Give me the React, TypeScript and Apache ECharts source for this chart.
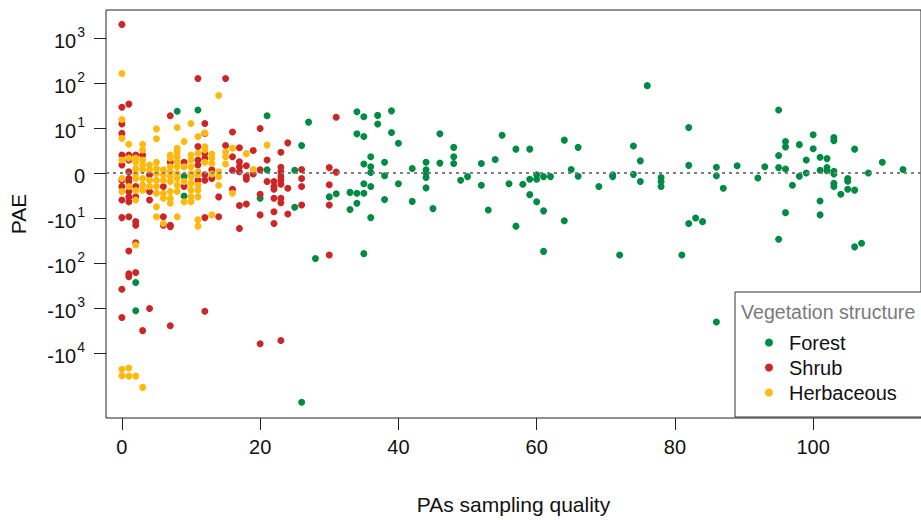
import React, { useEffect, useRef } from "react";
import * as echarts from "echarts";

// Axis ticks (y ticks are signed log10 positions of PAE)
const xTicks = [0, 20, 40, 60, 80, 100];
const yTicks = [-4, -3, -2, -1, 0, 1, 2, 3];
const seriesNames = ["Forest", "Shrub", "Herbaceous"];
const seriesColors = ["#008B45", "#CD2626", "#FFB90F"];

// [PAs sampling quality, signed log10(PAE)]
const forestPoints = [
  [8, 1.37], [11, 1.4], [21, 1.27], [27, 1.13], [26, 0.61], [21, 0.07], [25, 0.06], [20, -0.56], [25, -0.76], [9, -0.07], [9, -0.51], [2, -2.43], [2, -3.06], [28, -1.9], [26, -5.09],
  [30, -0.53], [31, -0.46], [33, -0.43], [34, -0.45], [35, -0.45], [35, -0.24], [36, -0.3], [34, -0.67], [33, -0.81], [36, -0.99], [38, -0.59], [40, -0.24], [42, 0.1], [42, -0.63], [44, 0.24], [44, 0.07], [44, 0.0], [44, -0.1], [44, -0.33], [45, -0.79], [46, 0.22], [49, -0.16], [50, -0.08], [52, -0.27], [53, -0.82], [56, -0.24], [57, -1.18], [35, -1.79],
  [34, 1.36], [35, 1.25], [37, 1.28], [37, 1.09], [39, 1.38], [34, 0.87], [35, 0.81], [39, 0.9], [40, 0.66], [46, 0.87], [48, 0.57], [48, 0.36], [48, 0.21], [55, 0.84], [57, 0.53], [54, 0.3], [52, 0.21], [36, 0.36], [35, 0.2], [36, 0.14], [36, 0.01], [38, 0.24], [38, -0.06],
  [76, 1.94], [59, 0.53], [64, 0.73], [66, 0.57], [74, 0.6], [75, 0.27], [82, 1.01], [82, 0.17], [65, 0.08], [66, -0.07], [58, -0.25], [59, -0.14], [60, -0.04], [60, -0.14], [61, -0.08], [62, -0.08], [59, -0.48], [60, -0.64], [61, -0.84], [64, -1.06], [61, -1.74], [69, -0.3], [71, -0.04], [71, -0.08], [74, -0.03], [75, -0.19], [78, -0.1], [78, -0.19], [78, -0.3], [72, -1.82], [81, -1.82], [82, -1.12], [83, -1.0], [84, -1.08],
  [95, 1.4], [86, 0.13], [86, -0.06], [87, -0.34], [89, 0.16], [92, -0.11], [93, 0.14], [95, 0.39], [95, 0.12], [96, 0.7], [96, 0.58], [96, 0.09], [97, -0.27], [98, 0.63], [98, -0.07], [99, 0.29], [99, 0.0], [100, 0.85], [100, 0.54], [101, 0.35], [101, 0.06], [101, -0.62], [101, -0.93], [102, 0.32], [102, 0.12], [102, 0.05], [103, 0.79], [103, 0.72], [103, 0.04], [103, -0.02], [103, -0.23], [103, -0.3], [104, -0.47], [105, -0.12], [105, -0.18], [105, -0.36], [106, 0.53], [106, -0.38], [108, 0.0], [110, 0.24], [113, 0.08], [96, -0.88], [95, -1.47], [106, -1.64], [107, -1.56], [86, -3.31],
];

const shrubPoints = [
  [0, 3.3], [11, 2.1], [15, 2.1], [0, 1.46], [1, 1.53], [7, 1.27], [0, 1.09], [12, 1.1],
  [2, -1.16], [6, -1.16], [7, -1.16], [2, -1.55], [1, -1.73], [1, -2.24], [1, -2.3], [2, -2.21], [0, -2.58], [4, -3.01], [0, -3.21], [3, -3.5], [7, -3.39], [12, -3.07], [20, -3.79], [23, -3.72],
  [16, 0.91], [20, 0.99], [24, 0.67], [23, 0.46], [15, 0.61], [17, 0.56], [19, 0.5], [16, 0.36], [17, 0.25], [21, 0.29], [13, 0.07], [13, -0.12], [16, 0.06], [17, 0.14], [17, 0.03], [18, 0.16], [18, -0.08], [18, -0.14], [19, -0.02], [20, 0.07], [21, -0.19], [22, -0.19], [22, -0.3], [22, -0.36], [23, 0.13], [23, 0.03], [23, -0.07], [23, -0.16], [23, -0.25], [23, -0.56], [23, -0.66], [26, 0.08], [26, -0.12], [26, -0.3], [26, -0.71], [24, -0.34], [24, -0.91], [22, -0.56], [22, -0.86], [22, -1.12], [20, -0.47], [20, -0.93], [18, -0.69], [17, -0.72], [17, -1.23], [16, -0.36], [14, -0.53], [14, -0.97], [12, -0.99],
  [31, 1.24], [30, 0.12], [31, 0.02], [30, -0.26], [30, -0.71], [30, -1.82],
  [0, 0.88], [0, 0.4], [0, 0.18], [0, -0.16], [0, -0.3], [0, -0.6], [0, -0.99], [1, 0.4], [1, 0.29], [1, 0.03], [1, -0.12], [1, -0.19], [1, -0.41], [1, -0.53], [1, -0.64], [1, -0.97], [2, 0.4], [2, -0.3], [2, -0.53], [2, -1.08], [3, 0.4], [4, -0.41], [4, -0.6], [4, -0.04], [6, -0.3], [6, -0.97], [7, 0.24], [7, -1.19], [9, 0.24], [9, -0.3], [11, 0.59], [11, 0.29], [11, 0.18], [11, -0.16], [12, 0.88], [12, 0.44], [12, 0.33], [12, -0.04], [12, -0.16],
];

const herbaceousPoints = [
  [0, 2.21], [0, 1.19], [5, 0.98], [8, 1.01], [10, 1.1], [14, 1.72],
  [11, -1.18], [2, -1.6], [0, -4.36], [1, -4.33], [0, -4.5], [1, -4.51], [2, -4.51], [3, -4.76],
  [12, 0.89], [21, 0.62], [16, 0.55], [18, 0.43], [12, 0.58], [12, 0.51], [12, 0.24], [13, 0.42], [13, 0.33], [13, 0.21], [15, 0.47], [15, 0.36], [15, 0.2], [14, 0.03], [14, -0.08], [14, -0.27], [19, 0.08], [16, -0.45], [13, -0.93], [13, -0.02],
  [0, 0.77], [0, 0.29], [0, -0.41], [0, -0.12],
  [1, 0.64], [1, 0.33], [1, -0.3],
  [2, 0.33], [2, 0.24], [2, 0.1], [2, -0.01], [2, -0.12], [2, -0.39], [2, -0.6],
  [3, 0.64], [3, 0.51], [3, 0.29], [3, 0.18], [3, 0.07], [3, -0.12], [3, -0.27], [3, -0.38],
  [4, 0.18], [4, 0.07], [4, -0.16], [4, -0.3],
  [5, 0.76], [5, 0.24], [5, 0.1], [5, -0.01], [5, -0.16], [5, -0.3], [5, -0.45], [5, -0.75], [5, -0.97],
  [6, 0.07], [6, -0.04], [6, -0.16], [6, -0.45], [6, -0.56], [6, -1.12],
  [7, 0.4], [7, 0.33], [7, 0.14], [7, 0.03], [7, -0.08], [7, -0.19], [7, -0.41], [7, -0.56], [7, -0.67],
  [8, 0.55], [8, 0.47], [8, 0.36], [8, 0.25], [8, 0.14], [8, -0.01], [8, -0.12], [8, -0.27], [8, -0.41], [8, -0.97],
  [9, 0.7], [9, 0.14], [9, -0.19], [9, -0.64],
  [10, 0.4], [10, 0.29], [10, 0.14], [10, -0.01], [10, -0.08], [10, -0.23], [10, -0.38], [10, -0.53], [10, -0.64],
  [11, 0.81], [11, 0.44], [11, 0.03], [11, -0.04], [11, -0.27], [11, -0.38], [11, -0.53], [11, -1.04],
];

const FONT = "'Liberation Sans', Arial, Helvetica, sans-serif";
const TXT = "#111";

export default function App() {
  const ref = useRef<HTMLDivElement>(null);
  useEffect(() => {
    if (!ref.current) return;
    const chart = echarts.init(ref.current, undefined, { renderer: "svg" });
    const allPoints = [forestPoints, shrubPoints, herbaceousPoints];
    chart.setOption({
      animation: false,
      backgroundColor: "#ffffff",
      textStyle: { fontFamily: FONT },
      grid: {
        left: 106,
        top: 10,
        right: -7,
        bottom: 102,
        show: true,
        borderColor: "#222",
        borderWidth: 1,
        backgroundColor: "transparent",
      },
      xAxis: {
        type: "value",
        min: -2.3,
        max: 115.6,
        name: "PAs sampling quality",
        nameLocation: "middle",
        nameGap: 76,
        nameTextStyle: { fontSize: 21, color: TXT, fontFamily: FONT },
        axisLine: { show: false, onZero: false },
        axisTick: { show: true, length: 12, lineStyle: { color: "#222" }, customValues: xTicks },
        axisLabel: { customValues: xTicks, fontSize: 20, color: TXT, margin: 19, fontFamily: FONT },
        splitLine: { show: false },
      },
      yAxis: {
        type: "value",
        min: -5.44,
        max: 3.62,
        name: "PAE",
        nameLocation: "middle",
        nameGap: 77,
        nameTextStyle: { fontSize: 21, color: TXT, fontFamily: FONT },
        axisLine: { show: false, onZero: false },
        axisTick: { show: true, length: 12, lineStyle: { color: "#222" }, customValues: yTicks },
        axisLabel: {
          customValues: yTicks,
          margin: 21,
          color: TXT,
          fontFamily: FONT,
          formatter: (v: number) => {
            if (v === 0) return "{b|0}";
            const s = v < 0 ? "-" : "";
            return `{b|${s}10}{s|${Math.abs(v)}}`;
          },
          rich: {
            b: { fontSize: 20, color: TXT, fontFamily: FONT, lineHeight: 26, verticalAlign: "bottom" },
            s: { fontSize: 14, color: TXT, fontFamily: FONT, lineHeight: 26, verticalAlign: "top", padding: [0, 0, 0, 1] },
          },
        },
        splitLine: { show: false },
      },
      legend: {
        data: seriesNames,
        orient: "vertical",
        left: 760,
        top: 327.5,
        itemWidth: 30,
        itemHeight: 8,
        itemGap: 5,
        icon: "circle",
        selectedMode: false,
        textStyle: { fontSize: 20, color: TXT, fontFamily: FONT },
        z: 6,
      },
      graphic: [
        {
          type: "rect",
          z: 5,
          shape: { x: 735, y: 292, width: 200, height: 125 },
          style: { fill: "#fff", stroke: "#333", lineWidth: 1 },
        },
        {
          type: "text",
          z: 6,
          x: 741,
          y: 312,
          style: { text: "Vegetation structure", fill: "#7a7a7a", font: `19.6px ${FONT}`, verticalAlign: "middle" },
        },
      ],
      series: seriesNames.map((name, i) => ({
        name,
        type: "scatter",
        data: allPoints[i],
        symbol: "circle",
        symbolSize: 7,
        itemStyle: { color: seriesColors[i], opacity: 1 },
        silent: true,
        ...(i === 2
          ? {
              markLine: {
                silent: true,
                symbol: ["none", "none"],
                label: { show: false },
                lineStyle: { color: "#7f7f7f", width: 2, type: [3, 4] },
                data: [{ yAxis: 0 }],
                z: 4,
              },
            }
          : {}),
      })),
    });
    return () => chart.dispose();
  }, []);
  return (
    <div
      ref={ref}
      style={{ position: "absolute", left: 0, top: 0, width: 921, height: 520, background: "#fff" }}
    />
  );
}
